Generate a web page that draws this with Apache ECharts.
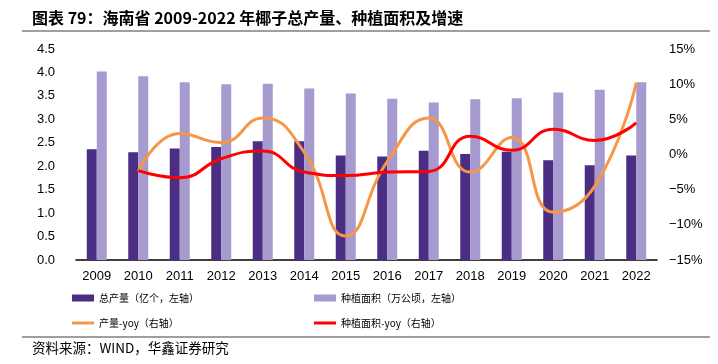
<!DOCTYPE html>
<html>
<head>
<meta charset="utf-8">
<script src="https://cdn.jsdelivr.net/npm/echarts@6/dist/echarts.min.js"></script>
<style>
html,body{margin:0;padding:0;background:#fff;}
#chart{width:718px;height:364px;}
</style>
</head>
<body>
<div id="chart"></div>
<script>
var years = ['2009','2010','2011','2012','2013','2014','2015','2016','2017','2018','2019','2020','2021','2022'];
var output = [2.36, 2.30, 2.38, 2.41, 2.53, 2.53, 2.23, 2.21, 2.33, 2.26, 2.31, 2.13, 2.02, 2.23];
var area = [4.02, 3.92, 3.79, 3.75, 3.76, 3.66, 3.55, 3.44, 3.36, 3.43, 3.45, 3.57, 3.63, 3.79];
var outputYoy = [null, -2.4, 3.0, 1.7, 5.2, 0.3, -11.6, -1.0, 5.2, -2.5, 2.4, -8.2, -4.5, 10.2];
var areaYoy = [null, -2.3, -3.3, -0.6, 0.5, -2.5, -3.0, -2.5, -2.4, 2.6, 0.6, 3.6, 2.0, 4.5];
var leftTicks = {min: 0, max: 4.5, interval: 0.5};
var rightTicks = {min: -15, max: 15, interval: 5};

var names = ['总产量（亿个，左轴）', '种植面积（万公顷，左轴）', '产量-yoy（右轴）', '种植面积-yoy（右轴）'];
var cjk = '"Noto Sans CJK SC", sans-serif';
var latin = '"Liberation Sans", Arial, sans-serif';

var chart = echarts.init(document.getElementById('chart'));
function lg(name, left, top, h) {
  return {
    data: [{name: name, icon: 'rect'}],
    left: left, top: top, padding: 0,
    itemWidth: 22, itemHeight: h,
    textStyle: {fontFamily: cjk, fontSize: 10, color: '#000'},
    selectedMode: false
  };
}
chart.setOption({
  animation: false,
  title: {
    text: '图表 79：海南省 2009-2022 年椰子总产量、种植面积及增速',
    left: 32, top: 10, padding: 0,
    textStyle: {fontFamily: cjk, fontSize: 16, fontWeight: 'bold', color: '#000'}
  },
  graphic: [
    {type: 'line', shape: {x1: 22, y1: 31, x2: 710, y2: 31}, style: {stroke: '#7f7f7f', lineWidth: 1.5}},
    {type: 'line', shape: {x1: 22, y1: 337, x2: 710, y2: 337}, style: {stroke: '#7f7f7f', lineWidth: 1.5}},
    {type: 'text', left: 32, top: 341, style: {text: '资料来源：WIND，华鑫证券研究', fontFamily: cjk, fontSize: 13.5, fill: '#000'}}
  ],
  legend: [
    lg(names[0], 72, 293, 7),
    lg(names[1], 314, 293, 7),
    lg(names[2], 72, 318, 3),
    lg(names[3], 314, 318, 3)
  ],
  grid: {left: 76, right: 61, top: 49, bottom: 104},
  xAxis: {
    type: 'category', data: years,
    axisLine: {lineStyle: {color: '#000', width: 1.5}},
    axisTick: {inside: true, length: 4, lineStyle: {color: '#000'}},
    axisLabel: {color: '#000', fontFamily: latin, fontSize: 13, margin: 10}
  },
  yAxis: [
    {
      type: 'value', min: leftTicks.min, max: leftTicks.max, interval: leftTicks.interval,
      splitLine: {show: false}, axisLine: {show: false}, axisTick: {show: false},
      axisLabel: {color: '#000', fontFamily: latin, fontSize: 13, margin: 21,
        formatter: function (v) { return v.toFixed(1); }}
    },
    {
      type: 'value', min: rightTicks.min, max: rightTicks.max, interval: rightTicks.interval,
      splitLine: {show: false}, axisLine: {show: false}, axisTick: {show: false},
      axisLabel: {color: '#000', fontFamily: latin, fontSize: 13, margin: 12,
        formatter: function (v) { return String(v).replace('-', '\u2212') + '%'; }}
    }
  ],
  series: [
    {name: names[0], type: 'bar', data: output, barWidth: 10, barGap: '0%', itemStyle: {color: '#4b2d84'}},
    {name: names[1], type: 'bar', data: area, barWidth: 10, barGap: '0%', itemStyle: {color: '#a69acf'}},
    {name: names[2], type: 'line', yAxisIndex: 1, data: outputYoy, smooth: 0.5, showSymbol: false, symbol: 'none',
      lineStyle: {color: '#f79646', width: 3}, itemStyle: {color: '#f79646'}},
    {name: names[3], type: 'line', yAxisIndex: 1, data: areaYoy, smooth: 0.5, showSymbol: false, symbol: 'none',
      lineStyle: {color: '#ff0000', width: 3}, itemStyle: {color: '#ff0000'}}
  ]
});
</script>
</body>
</html>
